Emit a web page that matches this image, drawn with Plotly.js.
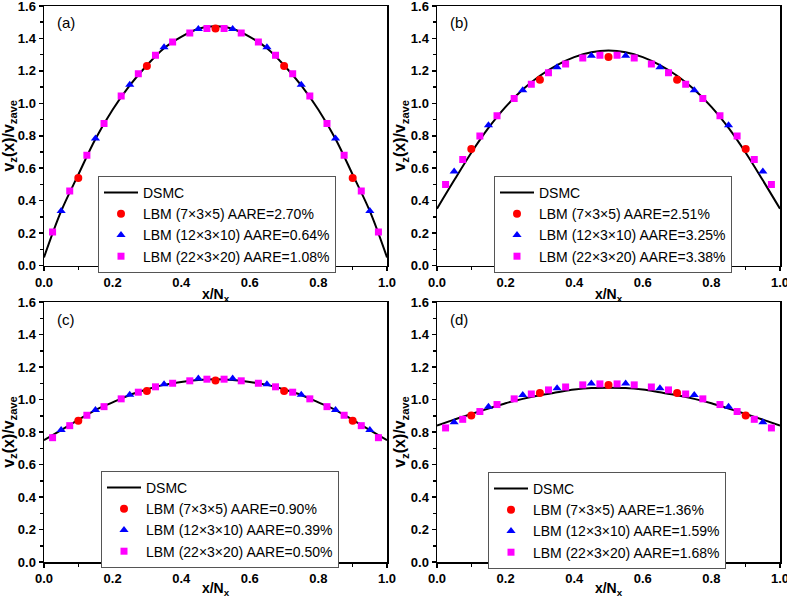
<!DOCTYPE html>
<html>
<head>
<meta charset="utf-8">
<script src="https://cdn.plot.ly/plotly-3.0.1.min.js"></script>
<style>html,body{margin:0;padding:0;background:#fff;}#chart{width:787px;height:598px;}</style>
</head>
<body>
<div id="chart"></div>
<script>
// ---- x positions ----
const xDSMC = [0, 0.05, 0.1, 0.15, 0.2, 0.25, 0.3, 0.35, 0.4, 0.45, 0.5, 0.55, 0.6, 0.65, 0.7, 0.75, 0.8, 0.85, 0.9, 0.95, 1.0];
const x7 = [0.1, 0.3, 0.5, 0.7, 0.9];
const x12 = [0.05, 0.15, 0.25, 0.35, 0.45, 0.55, 0.65, 0.75, 0.85, 0.95];
const x22 = [0.025, 0.075, 0.125, 0.175, 0.225, 0.275, 0.325, 0.375, 0.425, 0.475, 0.525, 0.575, 0.625, 0.675, 0.725, 0.775, 0.825, 0.875, 0.925, 0.975];

// ---- panel (a) ----
const dsmcA = [0.05, 0.335, 0.56, 0.78, 0.96, 1.11, 1.235, 1.34, 1.41, 1.46, 1.475, 1.46, 1.41, 1.34, 1.235, 1.11, 0.96, 0.78, 0.56, 0.335, 0.05];
const lbm7A = [0.54, 1.23, 1.462, 1.23, 0.54];
const lbm12A = [0.336, 0.783, 1.115, 1.345, 1.458, 1.458, 1.345, 1.115, 0.783, 0.336];
const lbm22A = [0.207, 0.46, 0.68, 0.876, 1.045, 1.183, 1.296, 1.378, 1.434, 1.462, 1.462, 1.434, 1.378, 1.296, 1.183, 1.045, 0.876, 0.68, 0.46, 0.207];
const aareA = ["2.70%", "0.64%", "1.08%"];

// ---- panel (b) ----
const dsmcB = [0.35, 0.525, 0.695, 0.848, 0.978, 1.085, 1.17, 1.236, 1.285, 1.315, 1.325, 1.315, 1.285, 1.236, 1.17, 1.085, 0.978, 0.848, 0.695, 0.525, 0.35];
const lbm7B = [0.719, 1.146, 1.285, 1.146, 0.719];
const lbm12B = [0.58, 0.864, 1.08, 1.222, 1.294, 1.294, 1.222, 1.08, 0.864, 0.58];
const lbm22B = [0.499, 0.654, 0.798, 0.923, 1.03, 1.117, 1.189, 1.242, 1.279, 1.296, 1.296, 1.279, 1.242, 1.189, 1.117, 1.03, 0.923, 0.798, 0.654, 0.499];
const aareB = ["2.51%", "3.25%", "3.38%"];

// ---- panel (c) ----
const dsmcC = [0.75, 0.812, 0.875, 0.935, 0.982, 1.028, 1.062, 1.09, 1.108, 1.12, 1.124, 1.12, 1.108, 1.09, 1.062, 1.028, 0.982, 0.935, 0.875, 0.812, 0.75];
const lbm7C = [0.87, 1.053, 1.117, 1.053, 0.87];
const lbm12C = [0.812, 0.936, 1.03, 1.094, 1.129, 1.129, 1.094, 1.03, 0.936, 0.812];
const lbm22C = [0.765, 0.839, 0.903, 0.956, 1.004, 1.045, 1.078, 1.1, 1.115, 1.125, 1.125, 1.115, 1.1, 1.078, 1.045, 1.004, 0.956, 0.903, 0.839, 0.765];
const aareC = ["0.90%", "0.39%", "0.50%"];

// ---- panel (d) ----
const dsmcD = [0.84, 0.876, 0.911, 0.944, 0.977, 1.004, 1.026, 1.044, 1.061, 1.071, 1.073, 1.071, 1.061, 1.044, 1.026, 1.004, 0.977, 0.944, 0.911, 0.876, 0.84];
const lbm7D = [0.901, 1.04, 1.09, 1.04, 0.901];
const lbm12D = [0.86, 0.955, 1.028, 1.069, 1.098, 1.098, 1.069, 1.028, 0.955, 0.86];
const lbm22D = [0.825, 0.878, 0.926, 0.969, 1.004, 1.034, 1.059, 1.077, 1.09, 1.096, 1.096, 1.09, 1.077, 1.059, 1.034, 1.004, 0.969, 0.926, 0.878, 0.825];
const aareD = ["1.36%", "1.59%", "1.68%"];

const panelLabels = ["(a)", "(b)", "(c)", "(d)"];
const gridNames = ["7×3×5", "12×3×10", "22×3×20"];

const W = 787, H = 598;
const FONT = "Arial, 'Liberation Sans', sans-serif";

const panels = [
  {d: dsmcA, l7: lbm7A, l12: lbm12A, l22: lbm22A, aare: aareA, px: [44, 387], py: [6, 265.5], leg: [98, 176]},
  {d: dsmcB, l7: lbm7B, l12: lbm12B, l22: lbm22B, aare: aareB, px: [437, 780], py: [6, 265.5], leg: [494, 176]},
  {d: dsmcC, l7: lbm7C, l12: lbm12C, l22: lbm22C, aare: aareC, px: [44, 387], py: [302, 562], leg: [101, 471]},
  {d: dsmcD, l7: lbm7D, l12: lbm12D, l22: lbm22D, aare: aareD, px: [437, 780], py: [302, 562], leg: [488, 472]}
];

const traces = [];
const layout = {
  width: W, height: H,
  margin: {l: 0, r: 0, t: 0, b: 0},
  paper_bgcolor: "#fff", plot_bgcolor: "#fff",
  font: {family: FONT, color: "#000"},
  annotations: []
};

panels.forEach((p, i) => {
  const n = i + 1;
  const sx = n === 1 ? "" : String(n);
  const xa = "x" + sx, ya = "y" + sx;
  const lg = n === 1 ? "legend" : "legend" + n;

  traces.push({x: xDSMC, y: p.d, xaxis: xa, yaxis: ya, type: "scatter", mode: "lines",
    line: {color: "#000", width: 2, shape: "spline", smoothing: 1}, name: "DSMC", legend: lg});
  traces.push({x: x7, y: p.l7, xaxis: xa, yaxis: ya, type: "scatter", mode: "markers",
    marker: {symbol: "circle", size: 8, color: "#ff0000"}, name: "LBM (" + gridNames[0] + ") AARE=" + p.aare[0], legend: lg});
  traces.push({x: x12, y: p.l12, xaxis: xa, yaxis: ya, type: "scatter", mode: "markers",
    marker: {symbol: "triangle-up", size: 8, color: "#0000ff"}, name: "LBM (" + gridNames[1] + ") AARE=" + p.aare[1], legend: lg});
  traces.push({x: x22, y: p.l22, xaxis: xa, yaxis: ya, type: "scatter", mode: "markers",
    marker: {symbol: "square", size: 7, color: "#ff00ff"}, name: "LBM (" + gridNames[2] + ") AARE=" + p.aare[2], legend: lg});

  const axCommon = {
    showline: true, linecolor: "#000", linewidth: 1.5, mirror: true,
    ticks: "outside", ticklen: 4, tickwidth: 1.5, tickcolor: "#000",
    showgrid: false, zeroline: false, fixedrange: true,
    tickfont: {family: FONT, size: 13, color: "#000", weight: "bold"},
    tickformat: ".1f", ticklabeloverflow: "allow",
    minor: {ticks: "outside", ticklen: 3, tickwidth: 1.5, tickcolor: "#000", dtick: 0.1, showgrid: false}
  };
  layout["xaxis" + sx] = Object.assign({}, axCommon, {
    anchor: ya, domain: [p.px[0] / W, p.px[1] / W], range: [0, 1], dtick: 0.2, tick0: 0,
    title: {text: "x/N<sub>x</sub>", font: {family: FONT, size: 14, color: "#000", weight: "bold"}, standoff: 0}
  });
  layout["yaxis" + sx] = Object.assign({}, axCommon, {
    anchor: xa, domain: [1 - p.py[1] / H, 1 - p.py[0] / H], range: [0, 1.6], dtick: 0.2, tick0: 0,
    title: {text: "v<sub>z</sub>(x)/v<sub>zave</sub>", font: {family: FONT, size: 16, color: "#000", weight: "bold"}, standoff: 0}
  });
  layout[lg] = {
    x: p.leg[0] / W, y: 1 - p.leg[1] / H, xref: "paper", yref: "paper",
    xanchor: "left", yanchor: "top",
    bgcolor: "#fff", bordercolor: "#555", borderwidth: 1,
    font: {family: FONT, size: 14, color: "#000"},
    itemwidth: 34, tracegroupgap: 0
  };
  layout.annotations.push({
    text: panelLabels[i], xref: "paper", yref: "paper",
    x: (p.px[0] + 11) / W, y: 1 - (p.py[0] + 17) / H, xanchor: "left", yanchor: "middle",
    showarrow: false, font: {family: FONT, size: 15, color: "#000"}
  });
});

Plotly.newPlot("chart", traces, layout, {displayModeBar: false, staticPlot: true});
</script>
</body>
</html>
